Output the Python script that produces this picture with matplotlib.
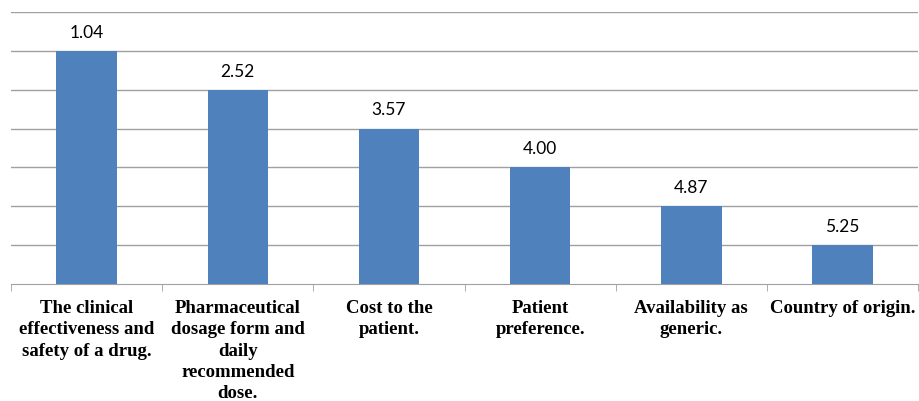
import matplotlib
matplotlib.use('Agg')
import matplotlib.pyplot as plt

categories = ['The clinical\neffectiveness and\nsafety of a drug.',
              'Pharmaceutical\ndosage form and\ndaily\nrecommended\ndose.',
              'Cost to the\npatient.',
              'Patient\npreference.',
              'Availability as\ngeneric.',
              'Country of origin.']
heights = [6, 5, 4, 3, 2, 1]
mean_ranks = ['1.04', '2.52', '3.57', '4.00', '4.87', '5.25']

fig = plt.figure(figsize=(9.19, 4.02), dpi=100)
ax = fig.add_axes([0.012, 0.291, 0.987, 0.677])

x = range(len(categories))
bars = ax.bar(x, heights, width=0.4, color='#4F81BD', zorder=3)

for b, lab in zip(bars, mean_ranks):
    ax.annotate(lab, (b.get_x() + b.get_width() / 2, b.get_height()),
                xytext=(0, 8), textcoords='offset points', ha='center', va='bottom',
                fontsize=12.5, family='Lato', color='black')

ax.set_xlim(-0.5, 5.5)
ax.set_ylim(0, 7)
ax.set_yticks(range(1, 8))
ax.yaxis.grid(True, color='#a0a0a0', linewidth=1, zorder=0)
ax.tick_params(axis='y', left=False, labelleft=False)

ax.set_xticks(list(x))
ax.set_xticklabels(categories, fontsize=13.5, family='Liberation Serif', fontweight='bold',
                   linespacing=1.32, va='top')
ax.tick_params(axis='x', which='major', length=0, pad=11)
ax.set_xticks([i + 0.5 for i in range(-1, 6)], minor=True)
ax.tick_params(axis='x', which='minor', length=5, color='#a0a0a0', direction='out')

for s in ['top', 'right', 'left']:
    ax.spines[s].set_visible(False)
ax.spines['bottom'].set_color('#a0a0a0')

fig.savefig('out.png', dpi=100)
